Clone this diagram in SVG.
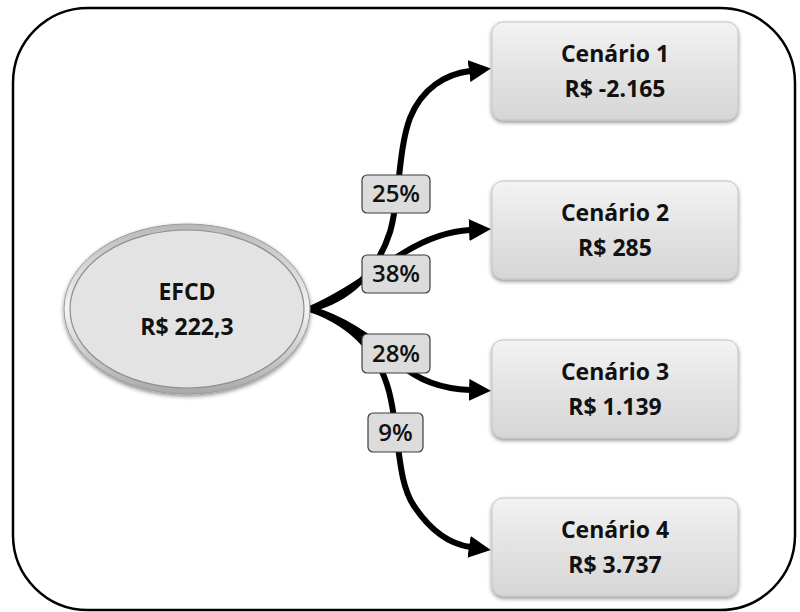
<svg xmlns="http://www.w3.org/2000/svg" width="800" height="612" viewBox="0 0 800 612">
  <defs>
    <linearGradient id="boxFill" x1="0" y1="0" x2="0" y2="1">
      <stop offset="0" stop-color="#f3f3f3"/>
      <stop offset="0.5" stop-color="#e3e3e3"/>
      <stop offset="1" stop-color="#d6d6d6"/>
    </linearGradient>
    <linearGradient id="ringFill" x1="0" y1="0" x2="0" y2="1">
      <stop offset="0" stop-color="#b8b8b8"/>
      <stop offset="0.5" stop-color="#f4f4f4"/>
      <stop offset="1" stop-color="#a8a8a8"/>
    </linearGradient>
    <filter id="shadow" x="-10%" y="-10%" width="120%" height="130%">
      <feGaussianBlur in="SourceAlpha" stdDeviation="2"/>
      <feOffset dx="0" dy="2" result="b"/>
      <feComponentTransfer><feFuncA type="linear" slope="0.45"/></feComponentTransfer>
      <feMerge><feMergeNode/><feMergeNode in="SourceGraphic"/></feMerge>
    </filter>
    <marker id="arrow" viewBox="0 0 22 22" refX="1" refY="11" markerWidth="22" markerHeight="22" markerUnits="userSpaceOnUse" orient="auto">
      <path d="M0,0 L22,11 L0,22 Z" fill="#000"/>
    </marker>
    <style>
      .frame { fill: none; stroke: #000; stroke-width: 2.5; }
      .box { fill: url(#boxFill); stroke: #c4c4c4; stroke-width: 1; filter: url(#shadow); }
      .tag { fill: #dcdcdc; stroke: #3c3c3c; stroke-width: 1.2; }
      .edge { fill: none; stroke: #000; stroke-width: 6; marker-end: url(#arrow); }
      .node-text { font-family: "Open Sans", "Noto Sans", sans-serif; font-weight: 700; font-size: 23px; fill: #111; text-anchor: middle; }
      .tag-text { font-family: "Open Sans", "Noto Sans", sans-serif; font-weight: 600; font-size: 24px; fill: #111; text-anchor: middle; }
    </style>
  </defs>

  <!-- outer frame -->
  <rect class="frame" x="13" y="8" width="782" height="602" rx="75" ry="75"/>

  <!-- connectors with their probability tags -->
  <g id="connectors">
    <path class="edge" d="M310,309 C350,300 378,270 390,232 C400,198 398,150 410,118 C422,88 446,74 470,71"/>
    <path class="edge" d="M310,309 C348,292 375,270 405,252 C430,237 450,231 470,230"/>
    <path class="edge" d="M310,309 C350,320 380,345 400,364 C420,382 445,389 470,390"/>
    <path class="edge" d="M310,309 C355,325 382,355 391,400 C400,445 398,482 414,506 C430,530 450,544 470,547"/>

    <g id="tag-25">
      <rect class="tag" x="362" y="175" width="68" height="38" rx="5"/>
      <text class="tag-text" x="396" y="202">25%</text>
    </g>
    <g id="tag-38">
      <rect class="tag" x="362" y="255" width="68" height="38" rx="5"/>
      <text class="tag-text" x="396" y="282">38%</text>
    </g>
    <g id="tag-28">
      <rect class="tag" x="362" y="334" width="68" height="39" rx="5"/>
      <text class="tag-text" x="396" y="362">28%</text>
    </g>
    <g id="tag-9">
      <rect class="tag" x="368" y="413" width="55" height="39" rx="5"/>
      <text class="tag-text" x="395.5" y="441">9%</text>
    </g>
  </g>

  <!-- root node -->
  <g id="efcd">
    <ellipse cx="187" cy="309" rx="123" ry="85" fill="url(#ringFill)" stroke="#9a9a9a" stroke-width="1" filter="url(#shadow)"/>
    <ellipse cx="187" cy="309" rx="117" ry="79" fill="#e3e3e3" stroke="#8c8c8c" stroke-width="1.2"/>
    <text class="node-text" x="187" y="300">EFCD</text>
    <text class="node-text" x="187" y="335">R$ 222,3</text>
  </g>

  <!-- scenario nodes -->
  <g id="cenario-1">
    <rect class="box" x="492" y="22" width="246" height="98" rx="11"/>
    <text class="node-text" x="615" y="62">Cenário 1</text>
    <text class="node-text" x="615" y="97">R$ -2.165</text>
  </g>
  <g id="cenario-2">
    <rect class="box" x="492" y="181" width="246" height="98" rx="11"/>
    <text class="node-text" x="615" y="221">Cenário 2</text>
    <text class="node-text" x="615" y="256">R$ 285</text>
  </g>
  <g id="cenario-3">
    <rect class="box" x="492" y="340" width="246" height="98" rx="11"/>
    <text class="node-text" x="615" y="380">Cenário 3</text>
    <text class="node-text" x="615" y="415">R$ 1.139</text>
  </g>
  <g id="cenario-4">
    <rect class="box" x="492" y="498" width="246" height="98" rx="11"/>
    <text class="node-text" x="615" y="538">Cenário 4</text>
    <text class="node-text" x="615" y="573">R$ 3.737</text>
  </g>
</svg>
